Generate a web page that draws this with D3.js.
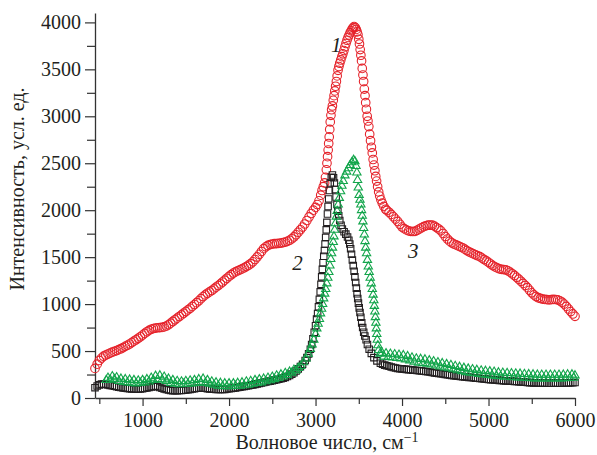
<!DOCTYPE html>
<html>
<head>
<meta charset="utf-8">
<script src="https://cdn.jsdelivr.net/npm/d3@7"></script>
<style>
  body { margin: 0; background: #fff; }
</style>
</head>
<body>
<div id="chart"></div>
<script>
// Spectra: [wavenumber, intensity]
const series1 = [
  [450, 315], [475, 360], [500, 400], [525, 425], [550, 445], [575, 458], [600, 468], [625, 478],
  [650, 488], [675, 496], [700, 505], [725, 515], [750, 525], [775, 537], [800, 550], [825, 562],
  [850, 575], [875, 590], [900, 605], [925, 620], [950, 636], [975, 652], [1000, 670], [1025, 688],
  [1050, 705], [1075, 720], [1100, 732], [1125, 740], [1150, 745], [1175, 748], [1200, 750], [1225, 752],
  [1250, 757], [1275, 767], [1300, 780], [1325, 797], [1350, 815], [1375, 833], [1400, 850], [1425, 868],
  [1450, 885], [1475, 903], [1500, 920], [1525, 938], [1550, 955], [1575, 975], [1600, 995], [1625, 1015],
  [1650, 1035], [1675, 1058], [1700, 1080], [1725, 1098], [1750, 1115], [1775, 1130], [1800, 1145], [1825, 1162],
  [1850, 1180], [1875, 1197], [1900, 1215], [1925, 1235], [1950, 1255], [1975, 1275], [2000, 1295], [2025, 1313],
  [2050, 1330], [2075, 1343], [2100, 1355], [2125, 1365], [2150, 1375], [2175, 1387], [2200, 1400], [2225, 1414],
  [2250, 1430], [2275, 1450], [2300, 1475], [2325, 1502], [2350, 1530], [2375, 1560], [2400, 1590], [2425, 1610],
  [2450, 1625], [2475, 1634], [2500, 1640], [2525, 1643], [2550, 1645], [2575, 1647], [2600, 1650], [2625, 1655],
  [2650, 1660], [2675, 1668], [2700, 1680], [2725, 1696], [2750, 1715], [2775, 1738], [2800, 1765], [2825, 1792],
  [2850, 1820], [2875, 1853], [2900, 1890], [2925, 1928], [2950, 1965], [2975, 2000], [3000, 2030],
  [3020, 2060], [3040, 2100], [3060, 2160], [3075, 2210], [3090, 2250], [3105, 2290], [3115, 2350],
  [3125, 2430], [3132, 2500], [3139, 2570], [3146, 2640], [3152, 2710], [3158, 2780], [3164, 2860],
  [3170, 2940], [3178, 3010], [3186, 3070], [3195, 3110], [3205, 3170], [3214, 3220], [3223, 3270],
  [3232, 3320], [3241, 3370], [3250, 3430], [3260, 3490], [3270, 3530], [3280, 3565], [3292, 3600],
  [3304, 3635], [3316, 3665], [3328, 3700], [3340, 3740], [3352, 3775], [3364, 3810], [3376, 3840],
  [3388, 3865], [3400, 3890], [3412, 3910], [3424, 3930], [3436, 3945], [3446, 3955], [3460, 3945],
  [3470, 3925], [3480, 3900], [3490, 3870], [3500, 3820], [3508, 3770], [3516, 3710], [3524, 3650],
  [3532, 3590], [3540, 3510], [3548, 3440], [3556, 3370], [3564, 3290], [3572, 3220], [3580, 3145],
  [3588, 3075], [3597, 3000], [3606, 2950], [3616, 2890], [3626, 2810], [3636, 2740], [3646, 2670],
  [3656, 2610], [3666, 2540], [3676, 2480], [3686, 2420], [3696, 2360], [3706, 2310], [3718, 2250],
  [3730, 2195], [3742, 2150], [3756, 2110], [3772, 2075], [3790, 2040], [3810, 2010], [3825, 1998],
  [3850, 1978], [3875, 1955], [3900, 1930], [3925, 1905], [3950, 1880], [3975, 1850], [4000, 1820],
  [4025, 1803], [4050, 1790], [4075, 1780], [4100, 1775], [4125, 1773], [4150, 1775], [4175, 1786],
  [4200, 1800], [4225, 1813], [4250, 1825], [4275, 1834], [4300, 1840], [4325, 1842], [4350, 1840],
  [4375, 1830], [4400, 1815], [4425, 1800], [4450, 1780], [4475, 1752], [4500, 1720], [4525, 1693],
  [4550, 1670], [4575, 1653], [4600, 1640], [4625, 1630], [4650, 1620], [4675, 1610], [4700, 1600],
  [4725, 1585], [4750, 1570], [4775, 1557], [4800, 1545], [4825, 1535], [4850, 1525], [4875, 1515],
  [4900, 1505], [4925, 1490], [4950, 1475], [4975, 1460], [5000, 1445], [5025, 1427], [5050, 1410],
  [5075, 1396], [5100, 1385], [5125, 1376], [5150, 1370], [5175, 1367], [5200, 1365], [5225, 1354],
  [5250, 1340], [5275, 1323], [5300, 1305], [5325, 1285], [5350, 1265], [5375, 1243], [5400, 1220],
  [5425, 1198], [5450, 1175], [5475, 1147], [5500, 1120], [5525, 1098], [5550, 1080], [5575, 1068],
  [5600, 1060], [5625, 1054], [5650, 1050], [5675, 1047], [5700, 1045], [5725, 1047], [5750, 1050],
  [5775, 1049], [5800, 1045], [5825, 1035], [5850, 1020], [5875, 1000], [5900, 975], [5925, 948],
  [5950, 920], [5975, 895], [6000, 870]
];

const series2 = [
  [450, 110], [475, 128], [500, 140], [525, 148], [550, 148], [575, 143], [600, 138], [625, 134],
  [650, 130], [675, 125], [700, 120], [725, 116], [750, 112], [775, 108], [800, 105], [825, 102],
  [850, 100], [875, 97], [900, 95], [925, 94], [950, 95], [975, 97], [1000, 100], [1025, 104],
  [1050, 108], [1075, 113], [1100, 118], [1125, 123], [1150, 126], [1175, 120], [1200, 112], [1225, 103],
  [1250, 95], [1275, 90], [1300, 85], [1325, 81], [1350, 78], [1375, 77], [1400, 78], [1425, 79],
  [1450, 80], [1475, 82], [1500, 85], [1525, 88], [1550, 92], [1575, 96], [1600, 100], [1625, 103],
  [1650, 105], [1675, 106], [1700, 105], [1725, 103], [1750, 100], [1775, 97], [1800, 95], [1825, 93],
  [1850, 92], [1875, 91], [1900, 90], [1925, 91], [1950, 92], [1975, 95], [2000, 98], [2025, 101],
  [2050, 105], [2075, 108], [2100, 112], [2125, 116], [2150, 120], [2175, 124], [2200, 128], [2225, 131],
  [2250, 135], [2275, 140], [2300, 145], [2325, 150], [2350, 155], [2375, 160], [2400, 165], [2425, 170],
  [2450, 175], [2475, 180], [2500, 185], [2525, 190], [2550, 195], [2575, 200], [2600, 205], [2625, 212],
  [2650, 220], [2675, 229], [2700, 240], [2725, 254], [2750, 270], [2775, 288], [2800, 310], [2825, 334],
  [2850, 360], [2880, 400], [2900, 430], [2920, 470], [2940, 520], [2955, 570], [2970, 630], [2985, 700],
  [3000, 770], [3012, 840], [3024, 900], [3034, 970], [3044, 1050], [3054, 1130], [3063, 1210],
  [3071, 1290], [3079, 1370], [3087, 1440], [3095, 1510], [3103, 1570], [3110, 1640], [3117, 1710],
  [3124, 1790], [3131, 1870], [3138, 1960], [3145, 2040], [3152, 2120], [3160, 2210], [3170, 2290],
  [3182, 2350], [3195, 2375], [3208, 2345], [3218, 2290], [3228, 2220], [3238, 2140], [3248, 2060],
  [3258, 1990], [3268, 1940], [3280, 1890], [3295, 1840], [3310, 1800], [3330, 1770], [3350, 1745],
  [3370, 1715], [3385, 1680], [3396, 1640], [3406, 1590], [3416, 1530], [3426, 1470], [3436, 1410],
  [3446, 1350], [3455, 1290], [3464, 1230], [3472, 1170], [3480, 1110], [3488, 1060], [3496, 1010],
  [3505, 960], [3514, 910], [3524, 860], [3534, 800], [3545, 750], [3557, 700], [3570, 660],
  [3585, 620], [3600, 570], [3620, 520], [3645, 475], [3675, 430], [3710, 395], [3750, 370],
  [3775, 360], [3800, 350], [3825, 344], [3850, 338], [3875, 331], [3900, 325], [3925, 320],
  [3950, 315], [3975, 312], [4000, 310], [4025, 307], [4050, 305], [4075, 302], [4100, 300],
  [4125, 297], [4150, 295], [4175, 292], [4200, 290], [4225, 287], [4250, 285], [4275, 283],
  [4300, 280], [4325, 276], [4350, 272], [4375, 268], [4400, 265], [4425, 261], [4450, 258],
  [4475, 255], [4500, 252], [4525, 248], [4550, 245], [4575, 241], [4600, 238], [4625, 235],
  [4650, 232], [4675, 230], [4700, 228], [4725, 225], [4750, 222], [4775, 220], [4800, 218],
  [4825, 215], [4850, 212], [4875, 210], [4900, 208], [4925, 205], [4950, 203], [4975, 200],
  [5000, 198], [5025, 196], [5050, 194], [5075, 192], [5100, 190], [5125, 188], [5150, 186],
  [5175, 184], [5200, 182], [5225, 181], [5250, 180], [5275, 178], [5300, 177], [5325, 175],
  [5350, 173], [5375, 171], [5400, 170], [5425, 168], [5450, 166], [5475, 164], [5500, 163],
  [5525, 161], [5550, 160], [5575, 160], [5600, 160], [5625, 159], [5650, 158], [5675, 157],
  [5700, 157], [5725, 157], [5750, 158], [5775, 158], [5800, 157], [5825, 157], [5850, 158],
  [5875, 159], [5900, 160], [5925, 161], [5950, 162], [5975, 163], [6000, 165]
];

const series3 = [
  [580, 190], [600, 215], [625, 195], [650, 230], [675, 200], [700, 220], [725, 180], [750, 205],
  [775, 170], [800, 200], [825, 165], [850, 195], [875, 160], [900, 190], [925, 155], [950, 185],
  [975, 160], [1000, 190], [1025, 165], [1050, 200], [1075, 175], [1100, 215], [1125, 190], [1150, 235],
  [1175, 200], [1200, 240], [1225, 195], [1250, 225], [1275, 180], [1300, 205], [1325, 160], [1350, 190],
  [1375, 150], [1400, 180], [1425, 145], [1450, 175], [1475, 150], [1500, 180], [1525, 150], [1550, 185],
  [1575, 155], [1600, 190], [1625, 160], [1650, 200], [1675, 165], [1700, 205], [1725, 160], [1750, 190],
  [1775, 150], [1800, 175], [1825, 140], [1850, 165], [1875, 130], [1900, 160], [1925, 125], [1950, 155],
  [1975, 125], [2000, 155], [2025, 125], [2050, 155], [2075, 128], [2100, 160], [2125, 130], [2150, 165],
  [2175, 135], [2200, 175], [2225, 140], [2250, 180], [2275, 150], [2300, 190], [2325, 158], [2350, 198],
  [2375, 165], [2400, 205], [2425, 178], [2450, 215], [2475, 188], [2500, 225], [2525, 200], [2550, 238],
  [2575, 212], [2600, 250], [2625, 228], [2650, 265], [2675, 245], [2700, 280], [2725, 268], [2750, 300],
  [2775, 292], [2800, 320], [2830, 340], [2860, 380], [2890, 420], [2915, 470], [2940, 520], [2960, 570],
  [2980, 620], [3000, 680], [3015, 740], [3030, 790], [3045, 840], [3058, 900], [3070, 950], [3082, 1000],
  [3094, 1060], [3106, 1110], [3118, 1160], [3130, 1220], [3142, 1280], [3154, 1340], [3166, 1410],
  [3176, 1480], [3186, 1540], [3196, 1600], [3205, 1660], [3213, 1720], [3221, 1790], [3230, 1860],
  [3240, 1930], [3250, 1990], [3262, 2060], [3275, 2130], [3290, 2200], [3305, 2260], [3320, 2310],
  [3340, 2370], [3360, 2410], [3380, 2445], [3400, 2480], [3420, 2510], [3440, 2535], [3455, 2520],
  [3468, 2470], [3478, 2400], [3486, 2320], [3494, 2240], [3504, 2160], [3514, 2110], [3524, 2060],
  [3532, 2000], [3540, 1940], [3548, 1880], [3556, 1810], [3564, 1740], [3572, 1670], [3580, 1600],
  [3590, 1540], [3600, 1470], [3610, 1400], [3620, 1340], [3632, 1280], [3644, 1220], [3656, 1160],
  [3666, 1100], [3674, 1040], [3680, 980], [3686, 920], [3692, 860], [3698, 800], [3703, 740],
  [3708, 680], [3714, 620], [3720, 560], [3730, 510], [3745, 470], [3770, 480], [3790, 440],
  [3815, 475], [3840, 435], [3865, 470], [3890, 430], [3915, 465], [3940, 425], [3965, 460],
  [3990, 420], [4015, 455], [4040, 410], [4065, 445], [4090, 400], [4115, 430], [4140, 385],
  [4165, 420], [4190, 375], [4215, 415], [4240, 370], [4265, 410], [4290, 365], [4315, 400],
  [4340, 355], [4365, 390], [4390, 345], [4415, 380], [4440, 335], [4465, 370], [4490, 325],
  [4515, 360], [4540, 315], [4565, 350], [4590, 305], [4615, 340], [4640, 295], [4665, 330],
  [4690, 285], [4715, 320], [4740, 275], [4765, 312], [4790, 268], [4815, 305], [4840, 262],
  [4865, 298], [4890, 255], [4915, 292], [4940, 250], [4965, 288], [4990, 245], [5015, 283],
  [5040, 240], [5065, 278], [5090, 235], [5115, 272], [5140, 230], [5165, 268], [5190, 226],
  [5215, 265], [5240, 222], [5265, 262], [5290, 220], [5315, 260], [5340, 218], [5365, 258],
  [5390, 215], [5415, 255], [5440, 212], [5465, 253], [5490, 210], [5515, 250], [5540, 208],
  [5565, 248], [5590, 207], [5615, 247], [5640, 206], [5665, 246], [5690, 206], [5715, 246],
  [5740, 206], [5765, 246], [5790, 207], [5815, 247], [5840, 208], [5865, 248], [5890, 210],
  [5915, 250], [5940, 212], [5965, 250], [5985, 215], [6000, 240]
];

const xTicks = [1000, 2000, 3000, 4000, 5000, 6000];
const xMinorTicks = [500, 1500, 2500, 3500, 4500, 5500];
const yTicks = [0, 500, 1000, 1500, 2000, 2500, 3000, 3500, 4000];
const yMinorTicks = [250, 750, 1250, 1750, 2250, 2750, 3250, 3750];

const curveLabels = [
  { text: "1", x: 3240, y: 3680 },
  { text: "2", x: 2790, y: 1360 },
  { text: "3", x: 4130, y: 1490 }
];

const xTitle = "Волновое число, см";
const yTitle = "Интенсивность, усл. ед.";

const W = 597, H = 455;
const plot = { left: 95, right: 575, top: 13, bottom: 398 };
const serif = '"Liberation Serif", "Times New Roman", serif';
const textColor = "#231f20";
const axisColor = "#333";

const svg = d3.select("#chart").append("svg")
  .attr("width", W)
  .attr("height", H);

const x = d3.scaleLinear().domain([450, 6000]).range([plot.left, plot.right]);
const y = d3.scaleLinear().domain([0, 4100]).range([plot.bottom, plot.top]);

// minor ticks first, then the axes with labels
svg.append("g")
  .attr("transform", `translate(0,${plot.bottom})`)
  .call(d3.axisBottom(x).tickValues(xMinorTicks).tickSize(6).tickFormat(""))
  .call(g => g.select(".domain").remove());

svg.append("g")
  .attr("transform", `translate(${plot.left},0)`)
  .call(d3.axisLeft(y).tickValues(yMinorTicks).tickSize(8).tickFormat(""))
  .call(g => g.select(".domain").remove());

const xAxis = svg.append("g")
  .attr("transform", `translate(0,${plot.bottom})`)
  .call(d3.axisBottom(x).tickValues(xTicks).tickSize(8).tickSizeOuter(0).tickPadding(6)
    .tickFormat(d3.format("d")));

const yAxis = svg.append("g")
  .attr("transform", `translate(${plot.left},0)`)
  .call(d3.axisLeft(y).tickValues(yTicks).tickSize(10).tickSizeOuter(0).tickPadding(4)
    .tickFormat(d3.format("d")));

svg.selectAll(".tick line").attr("stroke", axisColor).attr("stroke-width", 1.2);
svg.selectAll(".domain").attr("stroke", axisColor).attr("stroke-width", 1.3);
svg.selectAll(".tick text")
  .style("font-family", serif)
  .attr("font-size", 20)
  .attr("fill", textColor);
xAxis.selectAll(".tick text").attr("dy", "0.75em");
yAxis.selectAll(".tick text").attr("dy", "0.33em");

// series 1: red circles
svg.append("g").selectAll("circle")
  .data(series1)
  .enter()
  .append("circle")
  .attr("cx", d => x(d[0]))
  .attr("cy", d => y(d[1]))
  .attr("r", 4.3)
  .attr("fill", "none")
  .attr("stroke", "#e5232b")
  .attr("stroke-width", 1.1);

// series 2: black squares
svg.append("g").selectAll("path")
  .data(series2)
  .enter()
  .append("path")
  .attr("transform", d => `translate(${x(d[0])},${y(d[1])})`)
  .attr("d", d3.symbol(d3.symbolSquare, 42))
  .attr("fill", "none")
  .attr("stroke", "#231f20")
  .attr("stroke-width", 1.1);

// series 3: green triangles
svg.append("g").selectAll("path")
  .data(series3)
  .enter()
  .append("path")
  .attr("transform", d => `translate(${x(d[0])},${y(d[1])})`)
  .attr("d", d3.symbol(d3.symbolTriangle, 30))
  .attr("fill", "none")
  .attr("stroke", "#12a54b")
  .attr("stroke-width", 1.1);

// curve numbers
svg.selectAll(".curve-label")
  .data(curveLabels)
  .enter()
  .append("text")
  .attr("class", "curve-label")
  .attr("x", d => x(d.x))
  .attr("y", d => y(d.y))
  .attr("text-anchor", "middle")
  .style("font-family", serif)
  .attr("font-size", 21)
  .attr("font-style", "italic")
  .attr("fill", textColor)
  .text(d => d.text);

// axis titles
const xt = svg.append("text")
  .attr("x", 327)
  .attr("y", 449)
  .attr("text-anchor", "middle")
  .style("font-family", serif)
  .attr("font-size", 20)
  .attr("fill", textColor)
  .text(xTitle);
xt.append("tspan")
  .attr("dy", -7)
  .attr("font-size", 14)
  .text("−1");

svg.append("text")
  .attr("transform", "translate(24,189) rotate(-90)")
  .attr("text-anchor", "middle")
  .style("font-family", serif)
  .attr("font-size", 20)
  .attr("fill", textColor)
  .text(yTitle);
</script>
</body>
</html>
